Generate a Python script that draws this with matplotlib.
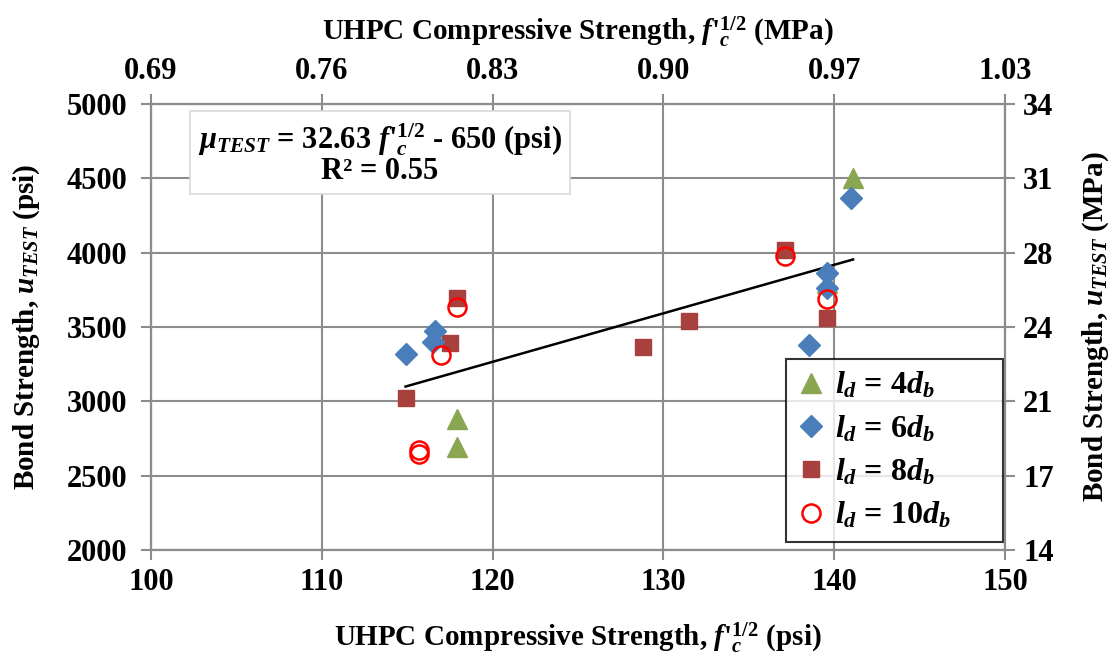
"""
Bond strength vs UHPC compressive strength scatter with linear trend
"""

import matplotlib
matplotlib.use("Agg")
import matplotlib.pyplot as plt
import numpy as np

# -----------------------
# Data
# -----------------------
x_4db = [117.9, 117.9, 141.1, 139.6]
y_4db = [2880, 2690, 4500, 3795]

x_6db = [114.9, 116.6, 116.5, 141.0, 139.6, 139.6, 138.5]
y_6db = [3320, 3475, 3400, 4370, 3860, 3760, 3380]

x_8db = [114.9, 117.9, 117.5, 128.8, 131.5, 137.1, 139.6]
y_8db = [3025, 3695, 3390, 3365, 3540, 4020, 3560]

x_10db = [117.9, 117.0, 115.7, 115.7, 137.1, 139.6]
y_10db = [3635, 3310, 2675, 2645, 3975, 3690]

# trend line from chart: u = 32.63 f'c^1/2 - 650
trend_slope = 32.63
trend_icept = -650
trend_x = [114.9, 141.1]

x_ticks = [100, 110, 120, 130, 140, 150]
top_labels = ["0.69", "0.76", "0.83", "0.90", "0.97", "1.03"]
y_ticks = [2000, 2500, 3000, 3500, 4000, 4500, 5000]
right_labels = ["14", "17", "21", "24", "28", "31", "34"]

# -----------------------
# Style
# -----------------------
plt.rcParams["font.family"] = ["Liberation Serif", "DejaVu Serif"]
plt.rcParams["font.weight"] = "bold"
plt.rcParams["axes.labelweight"] = "bold"
plt.rcParams["mathtext.fontset"] = "custom"
plt.rcParams["mathtext.rm"] = "Liberation Serif:bold"
plt.rcParams["mathtext.it"] = "Liberation Serif:bold:italic"
plt.rcParams["mathtext.bf"] = "Liberation Serif:bold"

GRID = "#8c8c8c"
FS_TICK = 22
FS_LABEL = 21

FC = r"$\mathit{f}$'${}_{\mathit{c}}^{\mathit{1/2}}$"

fig = plt.figure(figsize=(11.14, 6.61), dpi=100)
ax = fig.add_axes([0.1356, 0.168, 0.7666, 0.6747])

ax.set_xlim(100, 150)
ax.set_ylim(2000, 5000)
ax.set_xticks(x_ticks)
ax.set_yticks(y_ticks)
ax.grid(True, color=GRID, linewidth=1.5)
ax.set_axisbelow(True)
for sp in ax.spines.values():
    sp.set_color(GRID)
    sp.set_linewidth(1.5)
ax.tick_params(axis="both", colors=GRID, labelcolor="black", labelsize=FS_TICK,
               width=1.5, length=7, direction="out", pad=6)
ax.tick_params(axis="y", pad=10)

# trend line
tx = np.array(trend_x)
ax.plot(tx, trend_slope * tx + trend_icept, color="black", linewidth=1.8, zorder=3)

# series
ax.plot(x_4db, y_4db, linestyle="none", marker="^", markersize=15,
        color="#8BA650", label=r"$l_d$ = 4$d_b$", zorder=4)
ax.plot(x_6db, y_6db, linestyle="none", marker="D", markersize=11,
        color="#4A7EBB", label=r"$l_d$ = 6$d_b$", zorder=5)
ax.plot(x_8db, y_8db, linestyle="none", marker="s", markersize=12,
        color="#A8403E", label=r"$l_d$ = 8$d_b$", zorder=4)
ax.plot(x_10db, y_10db, linestyle="none", marker="o", markersize=13,
        markerfacecolor="none", markeredgecolor="#FF0000", markeredgewidth=1.8,
        label=r"$l_d$ = 10$d_b$      ", zorder=6)

ax.set_xlabel("UHPC Compressive Strength, " + FC + " (psi)",
              fontsize=FS_LABEL, labelpad=17)
ax.set_ylabel(r"Bond Strength, $u_{TEST}$ (psi)", fontsize=FS_LABEL, labelpad=18)

# top axis (MPa)
ax_top = ax.twiny()
ax_top.set_xlim(ax.get_xlim())
ax_top.set_xticks(x_ticks)
ax_top.set_xticklabels(top_labels)
ax_top.set_xlabel("UHPC Compressive Strength, " + FC + " (MPa)",
                  fontsize=FS_LABEL, labelpad=12)

# right axis (MPa)
ax_right = ax.twinx()
ax_right.set_ylim(ax.get_ylim())
ax_right.set_yticks(y_ticks)
ax_right.set_yticklabels(right_labels)
ax_right.set_ylabel(r"Bond Strength, $u_{TEST}$ (MPa)", fontsize=FS_LABEL, labelpad=19)

for a in (ax_top, ax_right):
    for sp in a.spines.values():
        sp.set_color(GRID)
        sp.set_linewidth(1.5)
    a.tick_params(axis="both", colors=GRID, labelcolor="black", labelsize=FS_TICK,
                  width=1.5, length=7, direction="out", pad=6)

# equation box
ax.text(113.4, 4665,
        r"$\mu_{TEST}$ = 32.63 " + FC + " - 650 (psi)" + "\n" + "R² = 0.55",
        ha="center", va="center", fontsize=22, linespacing=0.95, zorder=7,
        bbox=dict(boxstyle="square,pad=0.25", facecolor="white", edgecolor="#d9d9d9",
                  linewidth=1.2))

leg = ax.legend(loc="lower right", bbox_to_anchor=(0.998, 0.018), fontsize=23,
                frameon=True, fancybox=False, handletextpad=0.3, borderpad=0.35,
                labelspacing=0.4, handlelength=0.9, borderaxespad=0)
leg.get_frame().set_edgecolor("black")
leg.get_frame().set_linewidth(1.5)
leg.set_zorder(10)

fig.savefig("out.png", dpi=100)
